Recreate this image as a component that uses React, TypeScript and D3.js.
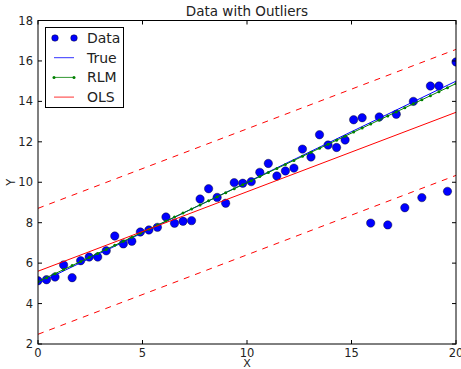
import React, { useRef, useEffect } from "react";
import * as d3 from "d3";

const xData = [
  0, 0.408, 0.816, 1.224, 1.633, 2.041, 2.449, 2.857, 3.265, 3.673,
  4.082, 4.49, 4.898, 5.306, 5.714, 6.122, 6.531, 6.939, 7.347, 7.755,
  8.163, 8.571, 8.98, 9.388, 9.796, 10.204, 10.612, 11.02, 11.429, 11.837,
  12.245, 12.653, 13.061, 13.469, 13.878, 14.286, 14.694, 15.102, 15.51, 15.918,
  16.327, 16.735, 17.143, 17.551, 17.959, 18.367, 18.776, 19.184, 19.592, 20,
];
const yData = [
  5.13, 5.18, 5.31, 5.91, 5.28, 6.12, 6.3, 6.3, 6.61, 7.34,
  6.95, 7.08, 7.54, 7.64, 7.77, 8.28, 7.97, 8.07, 8.1, 9.17,
  9.68, 9.25, 8.96, 9.98, 9.95, 10.03, 10.49, 10.93, 10.31, 10.56,
  10.7, 11.64, 11.25, 12.35, 11.84, 11.72, 12.09, 13.09, 13.19, 7.98,
  13.23, 7.89, 13.36, 8.74, 14.0, 9.24, 14.76, 14.76, 9.55, 15.95,
];
const rlmFit = [
  5.08, 5.28, 5.48, 5.68, 5.88, 6.08, 6.28, 6.48, 6.68, 6.88,
  7.08, 7.28, 7.48, 7.68, 7.88, 8.08, 8.28, 8.48, 8.68, 8.88,
  9.08, 9.28, 9.48, 9.68, 9.88, 10.08, 10.28, 10.48, 10.68, 10.88,
  11.08, 11.28, 11.48, 11.68, 11.88, 12.08, 12.28, 12.48, 12.68, 12.88,
  13.08, 13.28, 13.48, 13.68, 13.88, 14.08, 14.28, 14.48, 14.68, 14.88,
];
const lineEnds = [0, 20];
const trueLine = [5.0, 15.0];
const olsLine = [5.6, 13.46];
const olsUpper = [8.71, 16.57];
const olsLower = [2.48, 10.34];
const xTicks = [0, 5, 10, 15, 20];
const yTicks = [2, 4, 6, 8, 10, 12, 14, 16, 18];

const App = () => {
  const ref = useRef<SVGSVGElement>(null);

  useEffect(() => {
    const width = 461;
    const height = 369;
    const margin = { top: 20.5, right: 5, bottom: 25, left: 38 };
    const font = "'DejaVu Sans', sans-serif";

    const svg = d3.select(ref.current)
      .attr("width", width)
      .attr("height", height);
    svg.selectAll("*").remove();

    svg.append("rect")
      .attr("width", width).attr("height", height).attr("fill", "#fff");

    const x = d3.scaleLinear().domain([0, 20]).range([margin.left, width - margin.right]);
    const y = d3.scaleLinear().domain([2, 18]).range([height - margin.bottom, margin.top]);

    const clip = svg.append("defs").append("clipPath").attr("id", "plot-clip");
    clip.append("rect")
      .attr("x", margin.left).attr("y", margin.top)
      .attr("width", width - margin.left - margin.right)
      .attr("height", height - margin.top - margin.bottom);

    const plot = svg.append("g").attr("clip-path", "url(#plot-clip)");

    // Data points
    plot.selectAll(".pt")
      .data(xData.map((d, i) => [d, yData[i]]))
      .enter()
      .append("circle")
      .attr("cx", d => x(d[0]))
      .attr("cy", d => y(d[1]))
      .attr("r", 4.2)
      .attr("fill", "#0000ff")
      .attr("stroke", "#000")
      .attr("stroke-width", 0.4);

    const line = d3.line<number[]>().x(d => x(d[0])).y(d => y(d[1]));

    // True
    plot.append("path")
      .attr("d", line(lineEnds.map((d, i) => [d, trueLine[i]])))
      .attr("fill", "none").attr("stroke", "#0000ff").attr("stroke-width", 1);

    // RLM
    plot.append("path")
      .attr("d", line(xData.map((d, i) => [d, rlmFit[i]])))
      .attr("fill", "none").attr("stroke", "#008000").attr("stroke-width", 1);
    plot.selectAll(".rlm")
      .data(xData.map((d, i) => [d, rlmFit[i]]))
      .enter()
      .append("circle")
      .attr("cx", d => x(d[0]))
      .attr("cy", d => y(d[1]))
      .attr("r", 1.5)
      .attr("fill", "#008000");

    // OLS + intervals
    plot.append("path")
      .attr("d", line(lineEnds.map((d, i) => [d, olsLine[i]])))
      .attr("fill", "none").attr("stroke", "#ff0000").attr("stroke-width", 1);
    [olsUpper, olsLower].forEach(band => {
      plot.append("path")
        .attr("d", line(lineEnds.map((d, i) => [d, band[i]])))
        .attr("fill", "none").attr("stroke", "#ff0000").attr("stroke-width", 1)
        .attr("stroke-dasharray", "6 6");
    });

    // Frame
    svg.append("rect")
      .attr("x", margin.left).attr("y", margin.top)
      .attr("width", width - margin.left - margin.right)
      .attr("height", height - margin.top - margin.bottom)
      .attr("fill", "none").attr("stroke", "#000").attr("stroke-width", 1);

    // Ticks, inside on all sides
    const tickLen = 4;
    xTicks.forEach(t => {
      svg.append("line")
        .attr("x1", x(t)).attr("x2", x(t))
        .attr("y1", y(2)).attr("y2", y(2) - tickLen)
        .attr("stroke", "#000");
      svg.append("line")
        .attr("x1", x(t)).attr("x2", x(t))
        .attr("y1", y(18)).attr("y2", y(18) + tickLen)
        .attr("stroke", "#000");
      svg.append("text")
        .attr("x", x(t)).attr("y", y(2) + 12.5)
        .attr("text-anchor", "middle")
        .style("font-family", font).style("font-size", "11.5px")
        .attr("fill", "#222")
        .text(t);
    });
    yTicks.forEach(t => {
      svg.append("line")
        .attr("x1", x(0)).attr("x2", x(0) + tickLen)
        .attr("y1", y(t)).attr("y2", y(t))
        .attr("stroke", "#000");
      svg.append("line")
        .attr("x1", x(20)).attr("x2", x(20) - tickLen)
        .attr("y1", y(t)).attr("y2", y(t))
        .attr("stroke", "#000");
      svg.append("text")
        .attr("x", x(0) - 5).attr("y", y(t) + 4)
        .attr("text-anchor", "end")
        .style("font-family", font).style("font-size", "11.5px")
        .attr("fill", "#222")
        .text(t);
    });

    // Title and labels
    svg.append("text")
      .attr("x", (x(0) + x(20)) / 2).attr("y", 16)
      .attr("text-anchor", "middle")
      .style("font-family", font).style("font-size", "13.5px")
      .attr("fill", "#222")
      .text("Data with Outliers");
    svg.append("text")
      .attr("x", (x(0) + x(20)) / 2).attr("y", 366.5)
      .attr("text-anchor", "middle")
      .style("font-family", font).style("font-size", "11px")
      .attr("fill", "#222")
      .text("X");
    svg.append("text")
      .attr("transform", `translate(15,${(y(2) + y(18)) / 2}) rotate(-90)`)
      .attr("text-anchor", "middle")
      .style("font-family", font).style("font-size", "11.5px")
      .attr("fill", "#222")
      .text("Y");

    // Legend
    const legend = svg.append("g");
    legend.append("rect")
      .attr("x", 45.5).attr("y", 27.5).attr("width", 78).attr("height", 80)
      .attr("fill", "#fff").attr("stroke", "#000").attr("stroke-width", 1);
    const entries = [
      { label: "Data", kind: "marker", color: "#0000ff" },
      { label: "True", kind: "line", color: "#0000ff" },
      { label: "RLM", kind: "dotline", color: "#008000" },
      { label: "OLS", kind: "line", color: "#ff0000" },
    ];
    entries.forEach((e, i) => {
      const cy = 38 + i * 19.7;
      if (e.kind === "marker") {
        [55, 74].forEach(cx => {
          legend.append("circle")
            .attr("cx", cx).attr("cy", cy).attr("r", 3.3)
            .attr("fill", e.color).attr("stroke", "#000").attr("stroke-width", 0.4);
        });
      } else {
        legend.append("line")
          .attr("x1", 54).attr("x2", 74).attr("y1", cy).attr("y2", cy)
          .attr("stroke", e.color).attr("stroke-width", 1).attr("opacity", 0.8);
        if (e.kind === "dotline") {
          [54, 74].forEach(cx => {
            legend.append("circle")
              .attr("cx", cx).attr("cy", cy).attr("r", 1.5).attr("fill", e.color);
          });
        }
      }
      legend.append("text")
        .attr("x", 87).attr("y", cy + 5)
        .style("font-family", font).style("font-size", "14px")
        .attr("fill", "#222")
        .text(e.label);
    });
  }, []);

  return (
    <div style={{ position: "absolute", left: 0, top: 0 }}>
      <svg ref={ref}></svg>
    </div>
  );
};

export default App;
